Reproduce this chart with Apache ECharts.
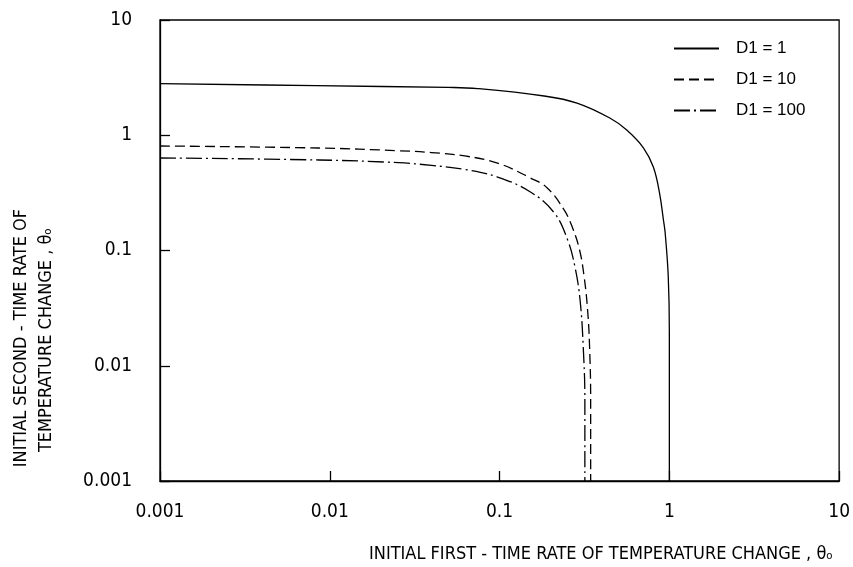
<!DOCTYPE html>
<html>
<head>
<meta charset="utf-8">
<script src="https://cdn.jsdelivr.net/npm/echarts@6/dist/echarts.min.js"></script>
<style>
html,body{margin:0;padding:0;background:#fff;}
#chart{width:853px;height:567px;}
</style>
</head>
<body>
<div id="chart"></div>
<script>
// ---- data ----
const xTickLabels = ['0.001', '0.01', '0.1', '1', '10'];
const yTickLabels = ['0.001', '0.01', '0.1', '1', '10'];
const seriesNames = ['D1 = 1', 'D1 = 10', 'D1 = 100'];

const d1_x = [0.001, 0.00828, 0.0497, 0.0743, 0.183, 0.286, 0.446, 0.561, 0.705, 0.805, 0.875, 0.923, 0.945, 0.985, 1.0, 1.0];
const d1_y = [2.81, 2.69, 2.60, 2.54, 2.19, 1.90, 1.41, 1.11, 0.775, 0.53, 0.316, 0.184, 0.142, 0.06, 0.02, 0.001];

const d10_x = [0.001, 0.00863, 0.0254, 0.0397, 0.0624, 0.0973, 0.152, 0.191, 0.240, 0.268, 0.296, 0.315, 0.330, 0.339, 0.344, 0.344];
const d10_y = [0.807, 0.775, 0.734, 0.708, 0.661, 0.574, 0.426, 0.349, 0.225, 0.160, 0.101, 0.059, 0.0305, 0.0146, 0.005, 0.001];

const d100_x = [0.001, 0.00863, 0.0254, 0.0397, 0.0624, 0.0973, 0.152, 0.210, 0.252, 0.278, 0.298, 0.311, 0.318, 0.318];
const d100_y = [0.635, 0.610, 0.578, 0.547, 0.505, 0.434, 0.322, 0.212, 0.123, 0.072, 0.0372, 0.0146, 0.005, 0.001];

function zip(xs, ys) { return xs.map((x, i) => [x, ys[i]]); }
function labelFor(list) {
  return function (v) {
    for (const s of list) { if (Math.abs(Math.log10(Number(s)) - Math.log10(v)) < 1e-6) return s; }
    return '';
  };
}

const narrow = '"Liberation Sans Narrow", "Arial Narrow", "DejaVu Sans Condensed", sans-serif';
const lineW = 1.3;

const chart = echarts.init(document.getElementById('chart'), null, {renderer: 'canvas'});
chart.setOption({
  backgroundColor: '#fff',
  animation: false,
  grid: {left: 160, right: 10, top: 20, bottom: 86, show: true, borderColor: '#000', borderWidth: 1.3},
  legend: {
    orient: 'vertical', left: 668, top: 35, itemWidth: 45, itemHeight: 14, itemGap: 14,
    itemStyle: {opacity: 0},
    textStyle: {fontFamily: '"Liberation Sans", Arial, sans-serif', fontSize: 17, color: '#000', padding: [0, 0, 0, 12]},
    data: seriesNames
  },
  xAxis: {
    type: 'log', logBase: 10, min: 0.001, max: 10,
    axisLine: {show: true, lineStyle: {color: '#000', width: 1.3}},
    axisTick: {show: true, inside: true, length: 10, lineStyle: {color: '#000', width: 1.3}},
    minorTick: {show: false},
    splitLine: {show: false},
    axisLabel: {color: '#000', fontFamily: narrow, fontSize: 19, margin: 22, formatter: labelFor(xTickLabels)}
  },
  yAxis: {
    type: 'log', logBase: 10, min: 0.001, max: 10,
    axisLine: {show: true, lineStyle: {color: '#000', width: 1.3}},
    axisTick: {show: true, inside: true, length: 10, lineStyle: {color: '#000', width: 1.3}},
    minorTick: {show: false},
    splitLine: {show: false},
    axisLabel: {color: '#000', fontFamily: narrow, fontSize: 19, margin: 28, formatter: labelFor(yTickLabels)}
  },
  graphic: [
    {type: 'text', x: 601, y: 554, style: {
      text: 'INITIAL FIRST - TIME RATE OF TEMPERATURE CHANGE , θₒ',
      fontFamily: narrow, fontSize: 18, fill: '#000', align: 'center', verticalAlign: 'middle'}},
    {type: 'text', rotation: Math.PI / 2, x: 21, y: 338, style: {
      text: 'INITIAL SECOND - TIME RATE OF',
      fontFamily: narrow, fontSize: 18, fill: '#000', align: 'center', verticalAlign: 'middle'}},
    {type: 'text', rotation: Math.PI / 2, x: 46, y: 340, style: {
      text: 'TEMPERATURE CHANGE , θₒ',
      fontFamily: narrow, fontSize: 18, fill: '#000', align: 'center', verticalAlign: 'middle'}}
  ],
  series: [
    {name: seriesNames[0], type: 'line', data: zip(d1_x, d1_y), symbol: 'none', smooth: 0.4,
     lineStyle: {color: '#000', width: lineW, type: 'solid'}, itemStyle: {color: '#000'}},
    {name: seriesNames[1], type: 'line', data: zip(d10_x, d10_y), symbol: 'none', smooth: 0.4,
     lineStyle: {color: '#000', width: lineW, type: [10, 5]}, itemStyle: {color: '#000'}},
    {name: seriesNames[2], type: 'line', data: zip(d100_x, d100_y), symbol: 'none', smooth: 0.4,
     lineStyle: {color: '#000', width: lineW, type: [16, 4, 2, 4]}, itemStyle: {color: '#000'}}
  ]
});
</script>
</body>
</html>
